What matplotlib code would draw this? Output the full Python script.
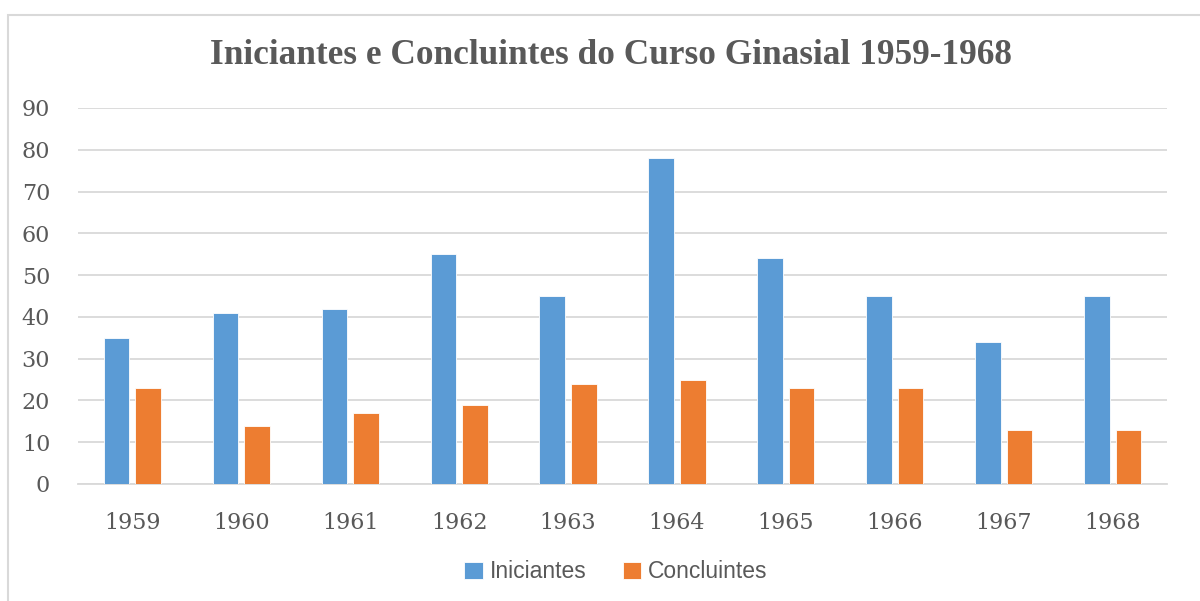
"""Iniciantes e Concluintes do Curso Ginasial 1959-1968, grouped bar chart."""

import matplotlib

matplotlib.use("Agg")

import matplotlib.pyplot as plt
import numpy as np
from matplotlib.patches import Rectangle

years = ["1959", "1960", "1961", "1962", "1963", "1964", "1965", "1966", "1967", "1968"]
iniciantes = [35, 41, 42, 55, 45, 78, 54, 45, 34, 45]
concluintes = [23, 14, 17, 19, 24, 25, 23, 23, 13, 13]
y_ticks = [0, 10, 20, 30, 40, 50, 60, 70, 80, 90]

BLUE = "#5B9BD5"
ORANGE = "#ED7D31"
TEXT = "#595959"
GRID = "#D9D9D9"


def main() -> None:
    fig = plt.figure(figsize=(12, 6.01), dpi=100)
    fig.patches.append(
        Rectangle((8 / 1200, -0.05), 1.1, 1 - 15 / 601 + 0.05, transform=fig.transFigure,
                  fill=False, edgecolor=GRID, linewidth=1.5)
    )
    ax = fig.add_axes([78 / 1200, 1 - 484 / 601, (1167 - 78) / 1200, (484 - 108) / 601])

    x = np.arange(len(years))
    w = 0.235
    off = 0.145
    ax.bar(x - off, iniciantes, w, color=BLUE, edgecolor="white", linewidth=0.6,
           label="Iniciantes", zorder=3)
    ax.bar(x + off, concluintes, w, color=ORANGE, edgecolor="white", linewidth=0.6,
           label="Concluintes", zorder=3)

    ax.set_xlim(-0.5, len(years) - 0.5)
    ax.set_ylim(0, 90)
    ax.set_yticks(y_ticks)
    ax.set_xticks(x)
    ax.set_xticklabels(years)
    ax.grid(axis="y", color=GRID, linewidth=1.3, zorder=0)
    for side in ("top", "right", "left"):
        ax.spines[side].set_visible(False)
    ax.spines["bottom"].set_color(GRID)
    ax.spines["bottom"].set_linewidth(1.3)
    ax.tick_params(length=0, colors=TEXT)
    for lab in ax.get_xticklabels() + ax.get_yticklabels():
        lab.set_family("DejaVu Serif")
        lab.set_fontsize(16)
        lab.set_color(TEXT)
    ax.tick_params(axis="x", pad=20)
    ax.tick_params(axis="y", pad=20)

    fig.text(611 / 1200, 1 - 56 / 601, "Iniciantes e Concluintes do Curso Ginasial 1959-1968",
             ha="center", va="center", family="Liberation Serif", weight="bold",
             fontsize=25.4, color=TEXT)

    leg = ax.legend(loc="center", bbox_to_anchor=(616 / 1200, 1 - 572 / 601),
                    bbox_transform=fig.transFigure, ncol=2, frameon=False,
                    prop={"family": "Liberation Sans", "size": 16.5},
                    handlelength=0.8, handleheight=0.8, handletextpad=0.3,
                    columnspacing=1.6)
    for t in leg.get_texts():
        t.set_color(TEXT)

    fig.savefig("out.png", dpi=100)
    plt.close(fig)


if __name__ == "__main__":
    main()
